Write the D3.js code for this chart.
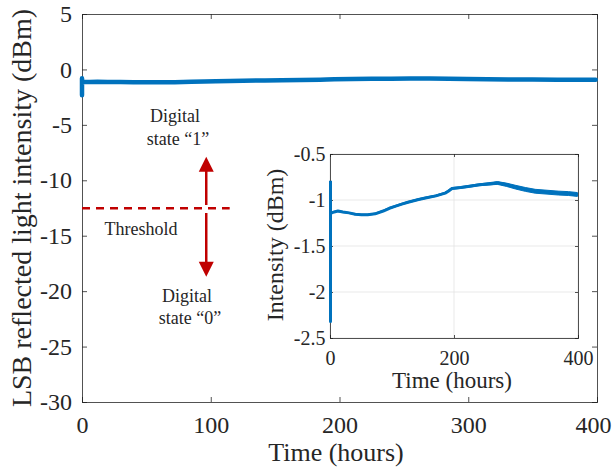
<!DOCTYPE html>
<html><head><meta charset="utf-8">
<script src="https://cdn.jsdelivr.net/npm/d3@7"></script>
<style>body{margin:0;background:#fff}svg{display:block}text{font-family:"Liberation Serif","Times New Roman",serif;fill:#262626}</style>
</head><body><svg id="c" width="613" height="469"></svg>
<script>
// ---- data ----
const times  = [0,0,0,2,6,12,20,30,40,50,60,72,85,95,104,115,125,142,155,170,185,190,196,210,225,240,255,270,285,299,315,331,350,369,385,399];
const values = [-0.79,-2.32,-1.15,-1.14,-1.13,-1.12,-1.13,-1.14,-1.155,-1.16,-1.16,-1.15,-1.12,-1.09,-1.07,-1.045,-1.025,-0.995,-0.975,-0.955,-0.925,-0.905,-0.875,-0.865,-0.85,-0.835,-0.825,-0.815,-0.835,-0.86,-0.885,-0.905,-0.915,-0.925,-0.93,-0.94];
const spread = [0,0,0.006,0.006,0.006,0.006,0.006,0.006,0.006,0.006,0.006,0.006,0.007,0.007,0.008,0.008,0.008,0.008,0.008,0.008,0.008,0.008,0.009,0.009,0.01,0.01,0.012,0.015,0.018,0.02,0.021,0.021,0.021,0.021,0.021,0.021];
const mainXTicks = [0,100,200,300,400];
const mainYTicks = [5,0,-5,-10,-15,-20,-25,-30];
const insetXTicks = [0,200,400];
const insetYTicks = [-0.5,-1,-1.5,-2,-2.5];
const threshold = -12.53;
const pts = times.map((t,i)=>({t, v:values[i], s:spread[i]}));

const svg = d3.select("#c");
const ink = "#262626", blue = "#0072bd", red = "#c00000";

// ---- main axes ----
const L=82,R=597,T=14,B=402;
const x = d3.scaleLinear().domain([0,400]).range([L,R]);
const y = d3.scaleLinear().domain([-30,5]).range([B,T]);

svg.append("rect").attr("x",L).attr("y",T).attr("width",R-L).attr("height",B-T).attr("fill","#fff");

function box(g,xs,ys,xt,yt,tl,px,py){
  const [l,r]=xs.range(), [b,t]=ys.range();
  g.append("g").attr("class","xb").attr("transform",`translate(0,${b})`).call(d3.axisBottom(xs).tickValues(xt).tickSize(-tl).tickPadding(px).tickFormat(d3.format("d")));
  g.append("g").attr("transform",`translate(0,${t})`).call(d3.axisTop(xs).tickValues(xt).tickSize(-tl).tickFormat(""));
  g.append("g").attr("transform",`translate(${l},0)`).call(d3.axisLeft(ys).tickValues(yt).tickSize(-tl).tickPadding(py).tickFormat(d=>String(d)));
  g.append("g").attr("transform",`translate(${r},0)`).call(d3.axisRight(ys).tickValues(yt).tickSize(-tl).tickFormat(""));
  g.selectAll(".domain").attr("stroke",ink).attr("stroke-width",0.8);
  g.selectAll(".tick line").attr("stroke",ink).attr("stroke-width",0.8);
  g.selectAll(".tick text").attr("fill",ink).style("font-family","Liberation Serif");
}

const gm = svg.append("g");
box(gm,x,y,mainXTicks,mainYTicks,5,14,10);
gm.selectAll(".tick text").style("font-size","24px");
gm.selectAll(".xb .tick text").filter(d=>d===400).attr("dx",-4);

const lineM = d3.line().x(d=>x(d.t)).y(d=>y(d.v));
gm.append("path").datum(pts).attr("d",lineM).attr("fill","none").attr("stroke",blue).attr("stroke-width",4.5).attr("stroke-linejoin","round").attr("stroke-linecap","round");

// threshold + arrows
gm.append("line").attr("x1",x(0)).attr("x2",x(114.7)).attr("y1",y(threshold)).attr("y2",y(threshold))
  .attr("stroke",red).attr("stroke-width",2.5).attr("stroke-dasharray","8,6");
const ax = x(96.5);
function arrow(from,to){
  const y0=y(from), y1=y(to), dir = y1<y0?1:-1;
  gm.append("line").attr("x1",ax).attr("x2",ax).attr("y1",y0).attr("y2",y1+dir*12).attr("stroke",red).attr("stroke-width",2.5);
  gm.append("path").attr("d",`M${ax},${y1} L${ax-7.5},${y1+dir*15} L${ax+7.5},${y1+dir*15} Z`).attr("fill",red);
}
arrow(-12.23,-7.87);
arrow(-12.95,-18.7);

const ann=[["Digital",175,122],["state \u201c1\u201d",178,145],["Threshold",141,235],["Digital",187,302],["state \u201c0\u201d",190,324]];
ann.forEach(a=>gm.append("text").attr("x",a[1]).attr("y",a[2]).attr("text-anchor","middle").style("font-size","18px").text(a[0]));

// labels
svg.append("text").attr("x",336).attr("y",461).attr("text-anchor","middle").style("font-size","26px").text("Time (hours)");
svg.append("text").attr("transform",`translate(31,208) rotate(-90)`).attr("text-anchor","middle").style("font-size","28px").text("LSB reflected light intensity (dBm)");

// ---- inset ----
const xi = d3.scaleLinear().domain([0,400]).range([330,578]);
const yi = d3.scaleLinear().domain([-2.5,-0.5]).range([338,154]);
const gi = svg.append("g");
gi.append("rect").attr("x",258).attr("y",140).attr("width",332).attr("height",254).attr("fill","#fff");
gi.selectAll(".gx").data(insetXTicks).enter().append("line").attr("x1",d=>xi(d)).attr("x2",d=>xi(d)).attr("y1",154).attr("y2",338).attr("stroke","#e3e3e3").attr("stroke-width",0.8);
gi.selectAll(".gy").data(insetYTicks).enter().append("line").attr("y1",d=>yi(d)).attr("y2",d=>yi(d)).attr("x1",330).attr("x2",578).attr("stroke","#e3e3e3").attr("stroke-width",0.8);

box(gi,xi,yi,insetXTicks,insetYTicks,3,13,4.5);
gi.selectAll(".tick text").style("font-size","20px");

const area = d3.area().x(d=>xi(d.t)).y0(d=>yi(d.v-d.s)).y1(d=>yi(d.v+d.s));
gi.append("path").datum(pts.slice(2)).attr("d",area).attr("fill",blue).attr("stroke",blue).attr("stroke-width",1);
gi.append("path").datum(pts).attr("d",d3.line().x(d=>xi(d.t)+0.5).y(d=>yi(d.v))).attr("fill","none").attr("stroke",blue).attr("stroke-width",3).attr("stroke-linejoin","round");

gi.append("text").attr("x",452).attr("y",388).attr("text-anchor","middle").style("font-size","23px").text("Time (hours)");
gi.append("text").attr("transform",`translate(283,245) rotate(-90)`).attr("text-anchor","middle").style("font-size","24px").text("Intensity (dBm)");
</script></body></html>
